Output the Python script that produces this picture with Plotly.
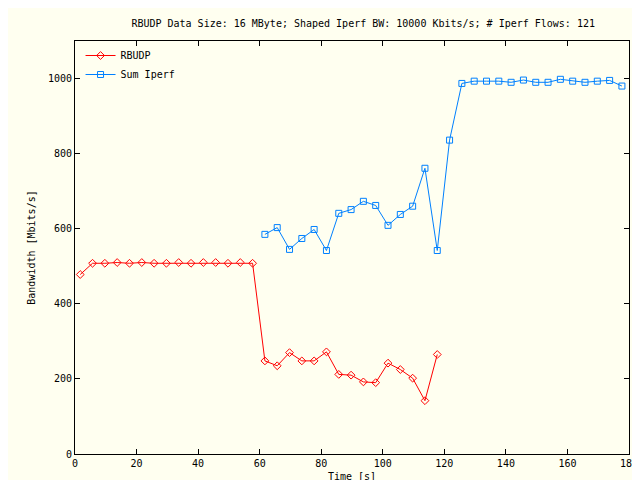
import plotly.graph_objects as go

rbudp_t = [1.7 + 4 * i for i in range(30)]
rbudp_bw = [478, 508, 508, 510, 508, 510, 508, 508, 510, 508, 510, 510, 508, 510, 508,
            248, 235, 270, 248, 248, 272, 212, 210, 192, 190, 242, 225, 202, 142, 265]

iperf_t = [61.7 + 4 * i for i in range(30)]
iperf_bw = [585, 603, 545, 574, 598, 542, 641, 651, 673, 662, 609, 638, 660, 761, 542,
            836, 987, 993, 993, 993, 990, 996, 990, 990, 998, 993, 990, 993, 995, 980]

font = dict(family="DejaVu Sans Mono", size=10, color="black")

fig = go.Figure()
fig.add_trace(go.Scatter(x=rbudp_t, y=rbudp_bw, name="RBUDP", mode="lines+markers",
                         line=dict(color="#ff0000", width=1),
                         marker=dict(symbol="diamond-open", size=6, color="#ff0000")))
fig.add_trace(go.Scatter(x=iperf_t, y=iperf_bw, name="Sum Iperf", mode="lines+markers",
                         line=dict(color="#0080ff", width=1),
                         marker=dict(symbol="square-open", size=6, color="#0080ff")))

axis = dict(showgrid=False, zeroline=False, showline=True, mirror="ticks", linecolor="black",
            ticks="inside", ticklen=5, tickcolor="black", tickfont=font, automargin=False)
fig.update_layout(
    width=640, height=480,
    paper_bgcolor="#fffff0", plot_bgcolor="#fffff0",
    margin=dict(l=67, r=19, t=33, b=34),
    font=font,
    title=dict(text="RBUDP Data Size: 16 MByte; Shaped Iperf BW: 10000 Kbits/s; # Iperf Flows: 121",
               x=0.555, xanchor="center", yref="container", y=0.967, yanchor="middle", font=font),
    xaxis=dict(axis, range=[0, 180], dtick=20,
               title=dict(text="Time [s]", font=font, standoff=4)),
    yaxis=dict(axis, range=[0, 1100], dtick=200,
               title=dict(text="Bandwidth [Mbits/s]", font=font, standoff=10)),
    legend=dict(x=0.01, y=1.0, xanchor="left", yanchor="top", bgcolor="rgba(0,0,0,0)",
                font=dict(family="DejaVu Sans Mono", size=10), tracegroupgap=0),
    showlegend=True,
)
fig.write_html("out.html")
